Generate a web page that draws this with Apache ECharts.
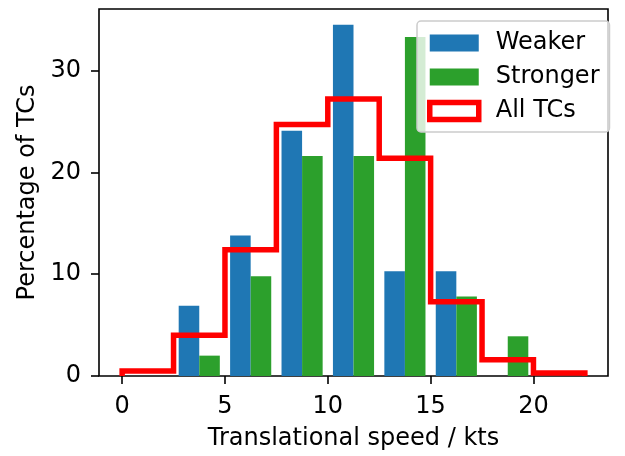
<!DOCTYPE html>
<html>
<head>
<meta charset="utf-8">
<script src="https://cdn.jsdelivr.net/npm/echarts@6/dist/echarts.min.js"></script>
<style>
html,body{margin:0;padding:0;background:#fff;}
#chart{width:625px;height:456px;}
</style>
</head>
<body>
<div id="chart"></div>
<script>
// Data (percent of TCs per 2.5-kt bin)
const binEdges = [0, 2.5, 5, 7.5, 10, 12.5, 15, 17.5, 20, 22.5];
const weaker   = [0, 6.9, 13.8, 24.1, 34.5, 10.3, 10.3, 0, 0];
const stronger = [0, 2.0, 9.8, 21.6, 21.6, 33.3, 7.8, 3.9, 0];
const allTCs   = [0.5, 4.0, 12.4, 24.7, 27.2, 21.4, 7.3, 1.6, 0.3];
const xTicks = [0, 5, 10, 15, 20];
const yTicks = [0, 10, 20, 30];

const FONT = 'DejaVu Sans';
const FS = 24;
const BLUE = '#1f77b4', GREEN = '#2ca02c', RED = '#ff0000';

function barData(vals, off) {
  const out = [];
  vals.forEach((v, i) => {
    if (v > 0) out.push([binEdges[i] + off, binEdges[i] + off + 1.0, v]);
  });
  return out;
}
function stepData() {
  const pts = [[binEdges[0], 0]];
  allTCs.forEach((v, i) => pts.push([binEdges[i], v]));
  pts.push([binEdges[binEdges.length - 1], allTCs[allTCs.length - 1]]);
  pts.push([binEdges[binEdges.length - 1], 0]);
  return pts;
}
function rectRender(color) {
  return function (params, api) {
    const p0 = api.coord([api.value(0), api.value(2)]);
    const p1 = api.coord([api.value(1), 0]);
    return {
      type: 'rect',
      shape: { x: p0[0], y: p0[1], width: p1[0] - p0[0], height: p1[1] - p0[1] },
      style: { fill: color }
    };
  };
}

const chart = echarts.init(document.getElementById('chart'), null, { renderer: 'canvas' });
chart.setOption({
  animation: false,
  backgroundColor: '#fff',
  textStyle: { fontFamily: FONT },
  grid: { left: 99, right: 17, top: 9, bottom: 78, show: true, borderColor: '#000', borderWidth: 1.6, backgroundColor: 'transparent' },
  legend: {
    orient: 'vertical',
    left: 417, top: 21,
    padding: [10, 10, 9, 10],
    itemWidth: 49, itemHeight: 17, itemGap: 10,
    borderColor: '#cccccc', borderWidth: 1.5, borderRadius: 4,
    backgroundColor: 'rgba(255,255,255,0.8)',
    textStyle: { fontFamily: FONT, fontSize: FS, color: '#000', padding: [0, 0, 0, 12] },
    selectedMode: false,
    data: [
      { name: 'Weaker', icon: 'rect', itemStyle: { color: BLUE } },
      { name: 'Stronger', icon: 'rect', itemStyle: { color: GREEN } },
      { name: 'All TCs', icon: 'rect', itemStyle: { color: '#fff', borderColor: RED, borderWidth: 5.5 } }
    ]
  },
  xAxis: {
    type: 'value',
    min: -1.125, max: 23.625,
    name: 'Translational speed / kts',
    nameLocation: 'middle', nameGap: 51,
    nameTextStyle: { fontFamily: FONT, fontSize: FS, color: '#000' },
    axisLine: { show: false, onZero: false },
    axisTick: { show: true, length: 8, lineStyle: { color: '#000', width: 1.6 }, customValues: xTicks },
    axisLabel: { fontFamily: FONT, fontSize: FS, color: '#000', margin: 19, customValues: xTicks },
    splitLine: { show: false }
  },
  yAxis: {
    type: 'value',
    min: 0, max: 36.05, interval: 10,
    name: 'Percentage of TCs',
    nameLocation: 'middle', nameGap: 59,
    nameTextStyle: { fontFamily: FONT, fontSize: FS, color: '#000' },
    axisLine: { show: false, onZero: false },
    axisTick: { show: true, length: 8, lineStyle: { color: '#000', width: 1.6 }, customValues: yTicks },
    axisLabel: { fontFamily: FONT, fontSize: FS, color: '#000', margin: 18, customValues: yTicks },
    splitLine: { show: false }
  },
  series: [
    {
      name: 'Weaker', type: 'custom', renderItem: rectRender(BLUE),
      itemStyle: { color: BLUE },
      encode: { x: [0, 1], y: 2 }, data: barData(weaker, 0.25), z: 2
    },
    {
      name: 'Stronger', type: 'custom', renderItem: rectRender(GREEN),
      itemStyle: { color: GREEN },
      encode: { x: [0, 1], y: 2 }, data: barData(stronger, 1.25), z: 2
    },
    {
      name: 'All TCs', type: 'line', step: 'end', showSymbol: false, symbol: 'none',
      lineStyle: { color: RED, width: 5.5, join: 'miter', cap: 'butt' },
      itemStyle: { color: RED },
      data: stepData(), z: 3
    }
  ]
});
</script>
</body>
</html>
